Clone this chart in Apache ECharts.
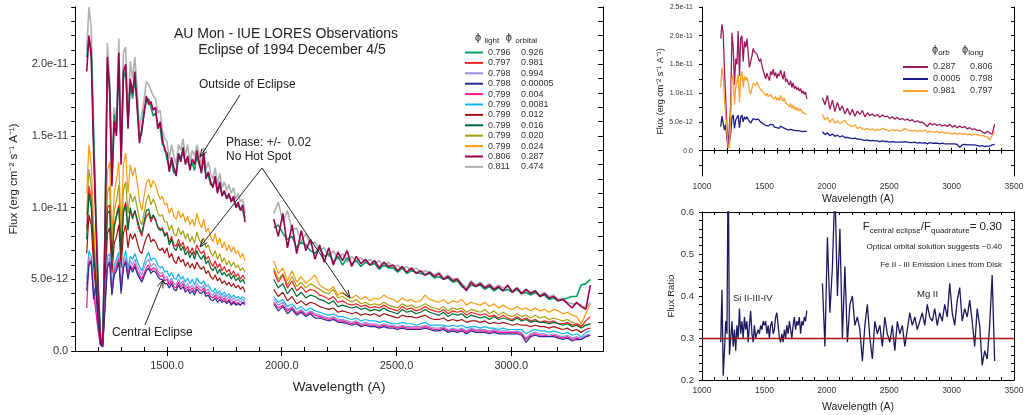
<!DOCTYPE html>
<html>
<head>
<meta charset="utf-8">
<script src="https://cdn.jsdelivr.net/npm/echarts@6/dist/echarts.min.js"></script>
<style>
  html, body { margin: 0; padding: 0; background: #fff; }
  #main { width: 1030px; height: 415px; }
</style>
</head>
<body>
<div id="main"></div>
<script>
// wavelength grids (A) of the two IUE cameras
const SWP_WAVE = [
  1150,1160,1170,1180,1190,1200,1210,1220,1230,1240,
  1250,1260,1270,1280,1290,1300,1310,1320,1330,1340,
  1350,1360,1370,1380,1390,1400,1410,1420,1430,1440,
  1450,1460,1470,1480,1490,1500,1510,1520,1530,1540,
  1550,1560,1570,1580,1590,1600,1610,1620,1630,1640,
  1650,1660,1670,1680,1690,1700,1710,1720,1730,1740,
  1750,1760,1770,1780,1790,1800,1810,1820,1830,1840]
const LWP_WAVE = [
  1965,1985,2005,2025,2045,2065,2085,2105,2125,2145,
  2165,2185,2205,2225,2245,2265,2285,2305,2325,2345,
  2365,2385,2405,2425,2445,2465,2485,2505,2525,2545,
  2565,2585,2605,2625,2645,2665,2685,2705,2725,2745,
  2765,2785,2805,2825,2845,2865,2885,2905,2925,2945,
  2965,2985,3005,3025,3045,3065,3085,3105,3125,3145,
  3165,3185,3205,3225,3245,3265,3285,3305,3325,3345]

// legend phases (light, orbital)
const PHI_LIGHT = ['0.796','0.797','0.798','0.798','0.799','0.799','0.799','0.799','0.799','0.799','0.806','0.811']
const PHI_ORB = ['0.926','0.981','0.994','0.00005','0.004','0.0081','0.012','0.016','0.020','0.024','0.287','0.474']

// fluxes in units of 1e-12 erg cm-2 s-1 A-1
const SWP_0926 = [
  20.5,21.8,21.0,15.0,9.5,4.5,1.0,0.6,8.5,20.0,
  18.5,12.0,16.5,15.5,20.2,13.5,19.0,19.6,16.0,18.6,
  17.6,19.0,17.2,14.8,15.2,16.8,17.4,17.6,17.0,16.4,
  16.6,15.8,15.6,14.4,14.2,13.4,12.8,13.2,12.4,12.6,
  13.4,13.6,13.8,13.2,13.2,12.9,13.1,12.6,13.6,13.0,
  12.6,13.4,12.2,12.3,11.6,11.6,11.9,11.2,11.5,11.0,
  11.0,10.8,10.7,10.6,10.5,10.2,10.1,9.9,9.8,9.3]
const LWP_0926 = [
  8.6,8.8,8.2,7.8,8.0,7.2,7.6,7.4,7.0,6.8,
  7.2,6.6,6.8,6.2,6.6,6.0,6.5,6.1,6.3,5.9,
  6.2,6.0,6.1,5.7,6.0,5.8,5.8,5.5,5.8,5.4,
  5.6,5.5,5.4,5.3,5.4,5.1,5.2,5.0,5.1,4.8,
  4.9,4.5,4.3,4.6,4.5,4.6,4.3,4.5,4.2,4.4,
  4.2,4.3,4.1,4.3,4.0,4.1,3.9,4.1,3.8,3.9,
  3.6,3.7,3.5,3.6,3.7,3.8,3.8,4.6,4.7,5.0]

const SWP_0981 = [
  8.5,11.5,10.5,7.2,5.0,2.5,0.6,0.4,5.0,10.0,
  10.2,6.5,8.8,9.5,10.2,6.8,9.8,10.4,8.6,9.8,
  9.4,9.8,9.0,8.4,8.0,8.8,9.4,9.6,9.0,9.4,
  9.1,8.7,8.5,8.6,8.1,8.3,7.6,8.0,7.4,7.3,
  7.8,7.3,7.6,7.0,7.3,6.8,7.2,6.7,7.4,7.0,
  6.8,7.0,6.4,6.6,6.2,5.9,6.3,5.8,6.1,5.6,
  5.9,5.5,5.7,5.3,5.6,5.2,5.4,5.0,5.3,5.0]
const LWP_0981 = [
  5.6,4.8,5.3,4.4,4.9,4.2,4.5,4.1,4.3,4.2,
  3.9,3.8,3.6,3.8,3.4,3.5,3.3,3.2,3.3,3.1,
  3.2,3.0,3.1,3.0,3.2,3.0,2.9,2.8,3.1,2.9,
  3.0,2.8,2.9,3.1,2.9,2.8,2.7,2.9,2.6,2.8,
  2.7,2.8,2.5,2.7,2.6,2.5,2.6,2.4,2.5,2.3,
  2.5,2.3,2.2,2.4,2.2,2.3,2.1,2.2,2.0,2.1,
  2.0,2.1,1.9,1.9,2.0,1.8,1.9,1.7,2.1,2.4]

const SWP_0994 = [
  4.6,6.6,6.2,4.3,3.0,1.5,0.4,0.3,3.4,6.3,
  6.5,4.2,5.7,6.1,6.6,4.4,6.1,6.5,5.5,6.3,
  6.0,6.4,5.9,5.6,5.3,5.8,6.2,6.4,5.9,6.1,
  6.0,5.6,5.4,5.5,5.1,5.2,4.8,5.1,4.7,4.6,
  5.0,4.7,4.9,4.5,4.7,4.4,4.6,4.3,4.7,4.5,
  4.4,4.6,4.2,4.3,4.0,3.9,4.1,3.8,4.0,3.7,
  3.9,3.6,3.8,3.5,3.7,3.5,3.6,3.4,3.6,3.4]
const LWP_0994 = [
  3.6,3.2,3.4,2.9,3.1,2.7,2.9,2.6,2.8,2.6,
  2.5,2.4,2.3,2.4,2.2,2.2,2.1,2.0,2.1,1.9,
  2.0,1.9,1.9,1.8,1.9,1.8,1.8,1.7,1.8,1.7,
  1.7,1.7,1.7,1.8,1.7,1.6,1.6,1.7,1.5,1.6,
  1.5,1.6,1.4,1.6,1.5,1.5,1.5,1.4,1.5,1.4,
  1.4,1.4,1.3,1.4,1.3,0.9,1.2,1.3,1.2,1.2,
  1.1,1.2,1.1,1.0,1.1,0.9,1.0,0.9,1.1,1.2]

const SWP_000005 = [
  4.2,6.0,6.3,3.6,4.6,2.0,0.5,0.3,3.0,5.8,
  6.2,3.9,5.3,5.6,6.2,4.0,5.8,6.2,5.0,5.9,
  5.5,5.9,5.4,5.1,4.8,5.2,5.6,5.8,5.4,5.6,
  5.5,5.2,5.0,5.0,4.7,4.7,4.4,4.7,4.3,4.2,
  4.6,4.3,4.5,4.1,4.3,4.0,4.2,3.9,4.3,4.1,
  4.0,4.2,3.8,3.9,3.6,3.5,3.7,3.4,3.6,3.4,
  3.5,3.3,3.5,3.2,3.4,3.2,3.3,3.2,3.4,3.3]
const LWP_000005 = [
  3.3,2.8,3.1,2.6,2.9,2.5,2.7,2.4,2.6,2.3,
  2.3,2.2,2.1,2.2,2.0,2.0,1.9,1.8,1.9,1.7,
  1.8,1.7,1.7,1.6,1.7,1.6,1.6,1.5,1.6,1.5,
  1.5,1.5,1.5,1.6,1.5,1.4,1.4,1.5,1.3,1.4,
  1.3,1.4,1.2,1.4,1.3,1.3,1.3,1.2,1.3,1.2,
  1.2,1.2,1.2,1.2,1.1,0.6,1.0,1.1,1.0,1.0,
  1.0,1.0,0.9,0.8,0.9,0.7,0.8,0.8,1.0,1.1]

const SWP_0004 = [
  3.0,6.3,6.0,4.0,2.8,1.4,0.4,0.3,3.2,6.0,
  6.3,4.0,5.5,5.9,6.4,4.2,5.9,6.3,5.3,6.0,
  5.7,6.1,5.6,5.3,5.0,5.4,5.8,6.0,5.6,5.8,
  5.7,5.4,5.2,5.3,4.9,5.0,4.6,4.9,4.5,4.4,
  4.8,4.5,4.7,4.3,4.5,4.2,4.4,4.1,4.5,4.3,
  4.2,4.4,4.0,4.1,3.8,3.7,3.9,3.6,3.8,3.5,
  3.7,3.4,3.6,3.3,3.5,3.3,3.4,3.2,3.4,3.2]
const LWP_0004 = [
  3.4,3.0,3.2,2.8,3.0,2.6,2.8,2.5,2.7,2.5,
  2.4,2.3,2.2,2.3,2.1,2.1,2.0,1.9,2.0,1.8,
  1.9,1.8,1.8,1.7,1.8,1.7,1.7,1.6,1.7,1.6,
  1.6,1.6,1.6,1.7,1.6,1.5,1.5,1.6,1.4,1.5,
  1.4,1.5,1.3,1.5,1.4,1.4,1.4,1.3,1.4,1.3,
  1.3,1.3,1.3,1.3,1.2,0.8,1.1,1.2,1.1,1.1,
  1.0,1.1,1.0,0.9,1.0,0.8,0.9,0.8,1.0,1.1]

const SWP_00081 = [
  5.0,7.0,6.6,4.6,3.2,1.6,0.4,0.3,3.6,6.6,
  6.8,4.4,6.0,6.4,6.9,4.6,6.4,7.0,5.8,6.6,
  6.4,6.8,6.3,5.9,5.6,6.1,6.6,6.9,6.3,6.5,
  6.4,6.0,5.8,5.9,5.5,5.6,5.2,5.5,5.1,5.0,
  5.4,5.0,5.2,4.8,5.1,4.7,5.0,4.6,5.1,4.8,
  4.7,4.9,4.5,4.6,4.3,4.1,4.4,4.0,4.2,3.9,
  4.1,3.8,4.0,3.7,3.9,3.7,3.8,3.6,3.8,3.6]
const LWP_00081 = [
  3.8,3.4,3.6,3.1,3.3,2.9,3.1,2.8,3.0,2.8,
  2.7,2.6,2.5,2.6,2.4,2.4,2.3,2.2,2.3,2.1,
  2.2,2.1,2.1,2.0,2.1,2.0,1.9,1.9,2.0,1.9,
  1.9,1.8,1.9,2.0,1.8,1.8,1.8,1.8,1.7,1.8,
  1.7,1.8,1.6,1.7,1.7,1.6,1.7,1.6,1.6,1.5,
  1.6,1.5,1.5,1.5,1.5,1.2,1.4,1.5,1.4,1.4,
  1.3,1.4,1.3,1.2,1.3,1.1,1.2,1.0,1.3,1.4]

const SWP_0012 = [
  6.8,9.5,8.8,6.0,4.2,2.0,0.5,0.4,4.2,8.2,
  8.6,5.4,7.5,8.0,8.8,5.8,8.2,8.8,7.2,8.2,
  7.8,8.2,7.6,7.0,6.8,7.4,7.9,8.2,7.6,7.8,
  7.6,7.2,7.0,7.2,6.8,7.2,6.5,6.8,6.3,6.1,
  6.6,6.2,6.4,5.9,6.2,5.8,6.1,5.7,6.2,5.9,
  5.7,5.9,5.4,5.6,5.2,5.0,5.3,4.9,5.1,4.7,
  4.9,4.6,4.8,4.5,4.7,4.4,4.6,4.3,4.5,4.1]
const LWP_0012 = [
  4.3,3.8,4.1,3.5,3.8,3.3,3.5,3.2,3.4,3.3,
  3.1,3.0,2.9,3.0,2.7,2.8,2.7,2.6,2.7,2.5,
  2.6,2.5,2.6,2.4,2.6,2.5,2.4,2.3,2.5,2.4,
  2.4,2.3,2.4,2.5,2.3,2.2,2.2,2.3,2.1,2.2,
  2.1,2.2,2.0,2.1,2.1,2.0,2.1,1.9,2.0,1.9,
  2.0,1.9,1.8,1.9,1.8,1.8,1.7,1.8,1.7,1.7,
  1.6,1.7,1.6,1.5,1.6,1.4,1.5,1.3,1.5,1.6]

const SWP_0016 = [
  7.8,11.0,10.0,7.0,4.8,2.4,0.6,0.4,4.8,9.6,
  9.8,6.2,8.6,9.4,10.0,6.6,9.6,10.2,8.4,10.0,
  9.2,9.8,9.2,8.6,8.2,9.0,9.8,9.9,9.2,9.5,
  9.2,8.6,8.4,8.5,8.0,8.2,7.4,7.8,7.2,7.0,
  7.5,7.0,7.3,6.7,7.0,6.5,6.9,6.4,7.0,6.6,
  6.4,6.7,6.1,6.3,5.8,5.6,5.9,5.4,5.7,5.3,
  5.5,5.2,5.4,5.0,5.3,4.9,5.1,4.8,5.0,4.7]
const LWP_0016 = [
  5.0,4.4,4.7,4.0,4.4,3.8,4.1,3.7,3.9,3.8,
  3.6,3.5,3.3,3.5,3.1,3.2,3.1,3.0,3.1,2.9,
  3.0,2.8,2.9,2.8,3.0,2.8,2.7,2.6,2.9,2.7,
  2.8,2.6,2.7,2.9,2.7,2.6,2.5,2.7,2.4,2.6,
  2.5,2.6,2.3,2.5,2.4,2.3,2.4,2.2,2.4,2.2,
  2.3,2.2,2.1,2.3,2.1,2.2,2.0,2.1,2.0,2.0,
  1.9,2.0,1.9,1.8,1.9,1.7,1.8,1.6,1.8,1.9]

const SWP_0020 = [
  9.5,12.7,11.5,8.0,5.5,2.8,0.7,0.4,5.5,11.0,
  11.5,7.2,9.8,10.5,11.6,7.5,11.2,11.8,9.6,11.0,
  10.4,10.8,10.0,9.2,8.8,9.6,10.5,10.9,10.2,10.6,
  10.2,9.6,9.4,9.5,9.0,9.0,8.4,8.8,8.2,8.0,
  8.6,8.1,8.4,7.8,8.2,7.6,8.0,7.5,8.3,7.8,
  7.5,7.9,7.2,7.4,6.9,6.6,7.0,6.4,6.8,6.2,
  6.5,6.0,6.3,5.9,6.2,5.8,6.0,5.6,5.8,5.5]
const LWP_0020 = [
  5.8,5.0,5.4,4.6,5.2,4.5,4.8,4.4,4.7,4.5,
  4.3,4.1,4.0,4.3,3.7,3.8,3.6,3.4,3.6,3.3,
  3.4,3.2,3.3,3.2,3.4,3.2,3.1,3.0,3.3,3.1,
  3.2,3.0,3.1,3.3,3.1,3.0,2.9,3.1,2.8,3.0,
  2.9,3.0,2.7,2.9,2.8,2.7,2.9,2.6,2.8,2.5,
  2.7,2.5,2.4,2.6,2.4,2.5,2.3,2.5,2.3,2.4,
  2.2,2.3,2.2,2.1,2.2,2.0,1.9,1.8,1.8,1.9]

const SWP_0024 = [
  11.0,14.4,13.0,9.0,6.0,3.0,0.8,0.4,6.0,12.5,
  13.2,8.0,11.0,12.0,13.2,8.5,13.0,13.8,11.0,13.0,
  12.2,12.8,11.8,10.5,9.8,10.8,11.7,12.0,11.4,11.9,
  11.6,11.0,10.6,10.8,10.2,10.3,9.6,10.0,9.4,9.2,
  9.8,9.3,9.6,9.0,9.4,8.8,9.2,8.7,9.6,9.0,
  8.6,9.2,8.3,8.6,8.0,7.6,8.2,7.4,7.9,7.2,
  7.6,7.0,7.4,6.9,7.3,6.8,7.0,6.5,6.8,6.3]
const LWP_0024 = [
  6.3,5.4,5.8,4.9,5.6,4.8,5.2,4.7,5.0,5.3,
  4.6,4.4,4.2,4.5,3.9,4.1,3.8,3.7,3.9,3.6,
  3.8,3.5,3.7,3.6,3.9,3.7,3.6,3.4,3.7,3.5,
  3.6,3.4,3.5,3.9,3.6,3.5,3.4,3.6,3.3,3.5,
  3.4,3.6,3.2,3.4,3.3,3.2,3.4,3.1,3.3,3.0,
  3.2,3.0,2.9,3.1,2.9,3.0,2.8,3.0,2.8,2.9,
  2.7,2.9,2.8,2.6,2.7,2.5,2.4,1.9,2.6,3.3]

const SWP_0287 = [
  19.5,22.0,20.5,14.0,9.0,4.0,0.8,0.5,8.0,20.5,
  18.0,11.5,16.0,15.0,20.8,13.0,19.5,20.0,15.5,19.0,
  18.0,19.5,17.0,14.5,15.5,16.5,17.8,17.2,17.4,16.8,
  17.0,15.5,16.0,14.8,14.0,13.8,12.5,13.5,12.8,12.2,
  13.8,13.2,14.2,13.0,13.6,12.6,13.4,13.0,14.0,13.2,
  12.4,13.8,12.0,12.5,11.8,11.4,12.2,11.0,11.8,10.8,
  11.2,10.6,11.0,10.4,10.8,10.0,10.4,9.8,10.2,9.0]
const LWP_0287 = [
  9.2,8.0,9.6,7.2,8.8,6.8,8.4,7.0,7.8,6.4,
  7.4,6.2,7.2,6.0,6.9,6.3,7.0,5.9,6.6,6.1,
  6.4,6.0,6.3,5.8,6.2,5.9,6.0,5.6,5.9,5.5,
  5.8,5.4,5.6,5.3,5.5,5.2,5.4,5.0,5.2,4.9,
  5.0,4.6,4.2,4.8,4.5,4.7,4.4,4.6,4.3,4.5,
  4.2,4.6,4.1,4.4,4.0,4.3,4.0,4.2,3.8,4.0,
  3.7,3.8,3.5,3.6,3.3,3.0,3.4,3.1,2.9,4.6]

const SWP_0474 = [
  21.0,24.0,22.5,16.0,10.0,5.0,1.2,0.7,9.0,21.5,
  19.0,12.5,17.0,16.0,21.8,14.0,20.8,21.2,16.5,20.2,
  19.0,20.5,18.2,15.5,16.5,17.5,18.8,18.6,18.2,17.8,
  17.6,16.6,16.8,15.4,14.8,14.6,13.4,14.4,13.6,13.0,
  14.4,14.0,14.8,13.6,14.4,13.2,14.0,13.6,14.4,13.8,
  13.0,14.2,12.6,13.2,12.4,12.0,12.8,11.6,12.4,11.4,
  11.8,11.2,11.6,11.0,11.4,10.6,11.0,10.4,10.6,9.6]
const LWP_0474 = [
  9.6,10.4,9.0,9.8,8.4,8.6,7.6,8.2,7.4,7.6,
  7.0,7.2,6.6,7.0,6.4,6.8,6.2,6.6,6.3,6.5,
  6.2,6.4,6.1,6.3,5.9,6.2,5.8,6.0,5.7,5.9,
  5.6,5.8,5.5,5.6,5.5,5.3,5.5,5.1,5.3,5.0,
  5.1,4.7,4.4,4.9,4.6,4.8,4.5,4.7,4.4,4.6,
  4.4,4.5,4.2,4.4,4.1,4.3,4.1,4.2,3.9,4.1,
  3.8,3.9,3.6,3.7,3.4,3.3,3.3,3.2,3.0,3.4]

// flux ratio central eclipse / quadrature
const RATIO_SWP = [
  0.29,0.415,0.21,0.27,0.34,0.31,0.75,0.26,0.30,0.34,
  0.28,0.32,0.27,0.33,0.30,0.37,0.31,0.34,0.30,0.35,
  0.32,0.34,0.29,0.33,0.365,0.31,0.29,0.33,0.30,0.30,
  0.32,0.31,0.33,0.32,0.34,0.33,0.34,0.31,0.33,0.30,
  0.33,0.34,0.31,0.32,0.35,0.36,0.33,0.30,0.29,0.31,
  0.29,0.32,0.30,0.33,0.31,0.34,0.32,0.30,0.33,0.35,
  0.32,0.34,0.33,0.35,0.31,0.34,0.33,0.35,0.34,0.365]
const RATIO_LWP = [
  0.43,0.28,0.54,0.36,0.47,0.66,0.40,0.56,0.30,0.47,
  0.29,0.38,0.40,0.33,0.35,0.32,0.245,0.33,0.38,0.30,
  0.25,0.34,0.31,0.33,0.28,0.35,0.31,0.29,0.33,0.27,
  0.34,0.31,0.33,0.28,0.32,0.36,0.33,0.35,0.32,0.34,
  0.36,0.33,0.38,0.35,0.34,0.37,0.33,0.36,0.34,0.38,
  0.35,0.43,0.36,0.33,0.39,0.42,0.34,0.37,0.35,0.39,
  0.34,0.28,0.37,0.33,0.235,0.27,0.25,0.33,0.45,0.245]
const RATIO_LEVEL = 0.30

// top right panel: phi_orb, phi_long
const TR_ORB = ['0.287', '0.0005', '0.981']
const TR_LONG = ['0.806', '0.798', '0.797']

const FONT = '"Liberation Sans", Arial, sans-serif'

// join the two camera segments with a gap in between
function spectrum(swp, lwp) {
  const out = SWP_WAVE.map((w, i) => [w, swp[i]])
  out.push([1900, '-'])
  LWP_WAVE.forEach((w, i) => out.push([w, lwp[i]]))
  return out
}

function fluxLabel(v) {
  if (Math.abs(v) < 1e-9) return '0.0'
  return (v * 1e-12).toExponential(1)
}

const SPECTRA = {
  '0.926': [SWP_0926, LWP_0926, '#00a060'],
  '0.981': [SWP_0981, LWP_0981, '#f02020'],
  '0.994': [SWP_0994, LWP_0994, '#9a90e0'],
  '0.00005': [SWP_000005, LWP_000005, '#2c2c90'],
  '0.004': [SWP_0004, LWP_0004, '#ff1493'],
  '0.0081': [SWP_00081, LWP_00081, '#10b4f0'],
  '0.012': [SWP_0012, LWP_0012, '#a01414'],
  '0.016': [SWP_0016, LWP_0016, '#006633'],
  '0.020': [SWP_0020, LWP_0020, '#a8a010'],
  '0.024': [SWP_0024, LWP_0024, '#ff9a10'],
  '0.287': [SWP_0287, LWP_0287, '#990050'],
  '0.474': [SWP_0474, LWP_0474, '#b0b0b0']
}
// drawing order (outside-eclipse curves on top)
const DRAW_ORDER = ['0.024','0.020','0.981','0.016','0.012','0.0081','0.994','0.004','0.00005','0.474','0.926','0.287']

const series = DRAW_ORDER.map(k => {
  const outside = ['0.287', '0.474', '0.926'].indexOf(k) >= 0
  return {
    name: k,
    type: 'line',
    xAxisIndex: 0,
    yAxisIndex: 0,
    symbol: 'none',
    color: SPECTRA[k][2],
    lineStyle: {width: outside ? 1.6 : 1.2},
    data: spectrum(SPECTRA[k][0], SPECTRA[k][1])
  }
})

// top right comparison
const trData = [
  [SWP_0287, LWP_0287, '#9c1a5c'],
  [SWP_000005, LWP_000005, '#1c1c8c'],
  [SWP_0024, LWP_0024, '#ffa030']
]
TR_ORB.forEach((o, i) => {
  series.push({
    name: 'tr' + o,
    type: 'line',
    xAxisIndex: 2,
    yAxisIndex: 2,
    symbol: 'none',
    color: trData[i][2],
    lineStyle: {width: 1.3},
    data: spectrum(trData[i][0], trData[i][1])
  })
})

series.push({
  name: 'ratio',
  type: 'line',
  xAxisIndex: 4,
  yAxisIndex: 4,
  symbol: 'none',
  color: '#1c1a5e',
  lineStyle: {width: 1.3},
  data: spectrum(RATIO_SWP, RATIO_LWP),
  markLine: {
    silent: true,
    symbol: 'none',
    label: {show: false},
    lineStyle: {color: '#b01010', width: 1.3, type: 'solid'},
    data: [{yAxis: RATIO_LEVEL}]
  }
})

const axisLine = {show: true, lineStyle: {color: '#000', width: 1}}
const tickStyle = {color: '#000', width: 1}

function arrow(x1, y1, x2, y2) {
  const a = Math.atan2(y2 - y1, x2 - x1)
  const L = 8, W = 3
  const p1 = [x2 - L * Math.cos(a) + W * Math.sin(a), y2 - L * Math.sin(a) - W * Math.cos(a)]
  const p2 = [x2 - L * Math.cos(a) - W * Math.sin(a), y2 - L * Math.sin(a) + W * Math.cos(a)]
  return [
    {type: 'line', z: 100, shape: {x1: x1, y1: y1, x2: x2, y2: y2}, style: {stroke: '#222', lineWidth: 1}},
    {type: 'polyline', z: 100, shape: {points: [p1, [x2, y2], p2]}, style: {stroke: '#222', lineWidth: 1, fill: null}}
  ]
}

function label(x, y, text, size, align) {
  return {
    type: 'text', x: x, y: y, z: 100,
    style: {text: text, font: size + 'px ' + FONT, fill: '#222', textAlign: align || 'left', textVerticalAlign: 'middle'}
  }
}

const subRich = {
  p: {fontSize: 11, lineHeight: 14, fontFamily: FONT, fill: '#222', color: '#222'},
  s: {fontSize: 8, lineHeight: 8, verticalAlign: 'bottom', fontFamily: FONT, fill: '#222', color: '#222'}
}

const graphic = [
  label(286, 34, 'AU Mon - IUE LORES Observations', 14, 'center'),
  label(292, 50, 'Eclipse of 1994 December 4/5', 14, 'center'),
  label(199, 85, 'Outside of Eclipse', 12),
  label(226, 143, 'Phase: +/-  0.02', 12),
  label(226, 157, 'No Hot Spot', 12),
  label(112, 333, 'Central Eclipse', 12),
  ...arrow(240, 95, 200, 157),
  ...arrow(262, 168, 200, 247),
  ...arrow(262, 168, 350, 298),
  ...arrow(145, 325, 163, 280),
  {
    type: 'text', x: 475, y: 38, z: 100,
    style: {text: '{p|ϕ} {s|light}  {p|ϕ} {s|orbital}', rich: subRich, textVerticalAlign: 'middle'}
  },
  {
    type: 'text', x: 932, y: 50, z: 100,
    style: {text: '{p|ϕ}{s|orb}', rich: subRich, textVerticalAlign: 'middle'}
  },
  {
    type: 'text', x: 962, y: 50, z: 100,
    style: {text: '{p|ϕ}{s|long}', rich: subRich, textVerticalAlign: 'middle'}
  },
  {
    type: 'text', x: 1002, y: 227, z: 100,
    style: {
      text: '{p|F}{s|central eclipse}{p|/F}{s|quadrature}{p|= 0.30}',
      rich: {
        p: {fontSize: 11.5, lineHeight: 16, fontFamily: FONT, fill: '#222'},
        s: {fontSize: 8, lineHeight: 8, verticalAlign: 'bottom', fontFamily: FONT, fill: '#222'}
      },
      textAlign: 'right', textVerticalAlign: 'middle'
    }
  },
  label(1002, 247, 'Optical orbital solution suggests ~0.40', 8, 'right'),
  label(1002, 265, 'Fe II - III Emission Lines from Disk', 8, 'right'),
  label(733, 298, 'Si II-III-IV', 9.5),
  label(917, 294, 'Mg II', 9.5)
]

const option = {
  animation: false,
  backgroundColor: '#fff',
  textStyle: {fontFamily: FONT},
  grid: [
    {left: 74, top: 7, width: 529, height: 344},
    {left: 702, top: 7, width: 312, height: 169},
    {left: 702, top: 212, width: 312, height: 168}
  ],
  legend: [
    {
      data: PHI_ORB,
      orient: 'vertical',
      left: 460,
      top: 43,
      itemWidth: 18,
      itemHeight: 2,
      itemGap: 1.4,
      icon: 'rect',
      selectedMode: false,
      formatter: function (name) {
        const i = PHI_ORB.indexOf(name)
        return '{a|' + PHI_LIGHT[i] + '}{b|' + name + '}'
      },
      textStyle: {
        rich: {
          a: {width: 33, fontSize: 9, color: '#333', fontFamily: FONT},
          b: {fontSize: 9, color: '#333', fontFamily: FONT}
        }
      }
    },
    {
      data: TR_ORB.map(o => 'tr' + o),
      orient: 'vertical',
      left: 898,
      top: 57.5,
      itemWidth: 25,
      itemHeight: 2,
      itemGap: 3,
      icon: 'rect',
      selectedMode: false,
      formatter: function (name) {
        const i = TR_ORB.indexOf(name.slice(2))
        return '{a|' + TR_ORB[i] + '}{b|' + TR_LONG[i] + '}'
      },
      textStyle: {
        rich: {
          a: {width: 37, fontSize: 9, color: '#333', fontFamily: FONT},
          b: {fontSize: 9, color: '#333', fontFamily: FONT}
        }
      }
    }
  ],
  xAxis: [
    {
      gridIndex: 0, type: 'value', min: 1100, max: 3400, interval: 100,
      axisLine: axisLine, splitLine: {show: false},
      axisTick: {inside: true, length: 4, lineStyle: tickStyle},
      axisLabel: {customValues: [1500, 2000, 2500, 3000], formatter: v => v.toFixed(1), fontSize: 11, color: '#333', margin: 9},
      name: 'Wavelength (A)', nameLocation: 'middle', nameGap: 29,
      nameTextStyle: {fontSize: 13.5, color: '#222'}
    },
    {
      gridIndex: 0, type: 'value', min: 1100, max: 3400, position: 'top',
      axisLine: axisLine, splitLine: {show: false},
      axisTick: {inside: true, length: 5, customValues: [1500, 2000, 2500, 3000], lineStyle: tickStyle},
      axisLabel: {show: false}
    },
    {
      gridIndex: 1, type: 'value', min: 1000, max: 3500, interval: 100,
      axisLine: axisLine, splitLine: {show: false},
      axisTick: {inside: true, length: 3, lineStyle: tickStyle},
      axisLabel: {customValues: [1000, 1500, 2000, 2500, 3000, 3500], formatter: v => String(v), fontSize: 8.5, color: '#333', margin: 6},
      name: 'Wavelength (A)', nameLocation: 'middle', nameGap: 18,
      nameTextStyle: {fontSize: 10.5, color: '#222'}
    },
    {
      gridIndex: 1, type: 'value', min: 1000, max: 3500, interval: 100, position: 'top',
      axisLine: axisLine, splitLine: {show: false},
      axisTick: {inside: true, length: 3, lineStyle: tickStyle},
      axisLabel: {show: false}
    },
    {
      gridIndex: 2, type: 'value', min: 1000, max: 3500, interval: 100,
      axisLine: axisLine, splitLine: {show: false},
      axisTick: {inside: true, length: 3, lineStyle: tickStyle},
      axisLabel: {customValues: [1000, 1500, 2000, 2500, 3000, 3500], formatter: v => String(v), fontSize: 8.5, color: '#333', margin: 6},
      name: 'Wavelength (A)', nameLocation: 'middle', nameGap: 22,
      nameTextStyle: {fontSize: 10.5, color: '#222'}
    },
    {
      gridIndex: 2, type: 'value', min: 1000, max: 3500, interval: 100, position: 'top',
      axisLine: axisLine, splitLine: {show: false},
      axisTick: {inside: true, length: 3, lineStyle: tickStyle},
      axisLabel: {show: false}
    }
  ],
  yAxis: [
    {
      gridIndex: 0, type: 'value', min: 0, max: 24, interval: 1,
      axisLine: axisLine, splitLine: {show: false},
      axisTick: {length: 4, lineStyle: tickStyle},
      axisLabel: {customValues: [0, 5, 10, 15, 20], formatter: fluxLabel, fontSize: 11, color: '#333', margin: 7},
      name: 'Flux (erg cm⁻² s⁻¹ A⁻¹)', nameLocation: 'middle', nameGap: 50,
      nameTextStyle: {fontSize: 11.5, color: '#222'}
    },
    {
      gridIndex: 0, type: 'value', min: 0, max: 24, interval: 1, position: 'right',
      axisLine: axisLine, splitLine: {show: false},
      axisTick: {inside: true, length: 5, lineStyle: tickStyle},
      axisLabel: {show: false}
    },
    {
      gridIndex: 1, type: 'value', min: -4.4, max: 25,
      axisLine: axisLine, splitLine: {show: false},
      axisTick: {length: 3, customValues: [-2.5, 0, 2.5, 5, 7.5, 10, 12.5, 15, 17.5, 20, 22.5, 25], lineStyle: tickStyle},
      axisLabel: {customValues: [0, 5, 10, 15, 20, 25], formatter: fluxLabel, fontSize: 7, color: '#333', margin: 9},
      name: 'Flux (erg cm⁻² s⁻¹ A⁻¹)', nameLocation: 'middle', nameGap: 35,
      nameTextStyle: {fontSize: 9, color: '#222'}
    },
    {
      gridIndex: 1, type: 'value', min: -4.4, max: 25, position: 'right',
      axisLine: axisLine, splitLine: {show: false},
      axisTick: {inside: true, length: 3, customValues: [-2.5, 0, 2.5, 5, 7.5, 10, 12.5, 15, 17.5, 20, 22.5, 25], lineStyle: tickStyle},
      axisLabel: {show: false}
    },
    {
      gridIndex: 2, type: 'value', min: 0.2, max: 0.6, interval: 0.02,
      axisLine: axisLine, splitLine: {show: false},
      axisTick: {length: 3, lineStyle: tickStyle},
      axisLabel: {customValues: [0.2, 0.3, 0.4, 0.5, 0.6], formatter: v => v.toFixed(1), fontSize: 9.5, color: '#333', margin: 8},
      name: 'Flux Ratio', nameLocation: 'middle', nameGap: 26,
      nameTextStyle: {fontSize: 9.5, color: '#222'}
    },
    {
      gridIndex: 2, type: 'value', min: 0.2, max: 0.6, interval: 0.02, position: 'right',
      axisLine: axisLine, splitLine: {show: false},
      axisTick: {inside: true, length: 3, lineStyle: tickStyle},
      axisLabel: {show: false}
    }
  ],
  series: series,
  graphic: graphic
}

const chart = echarts.init(document.getElementById('main'))
chart.setOption(option)
</script>
</body>
</html>
